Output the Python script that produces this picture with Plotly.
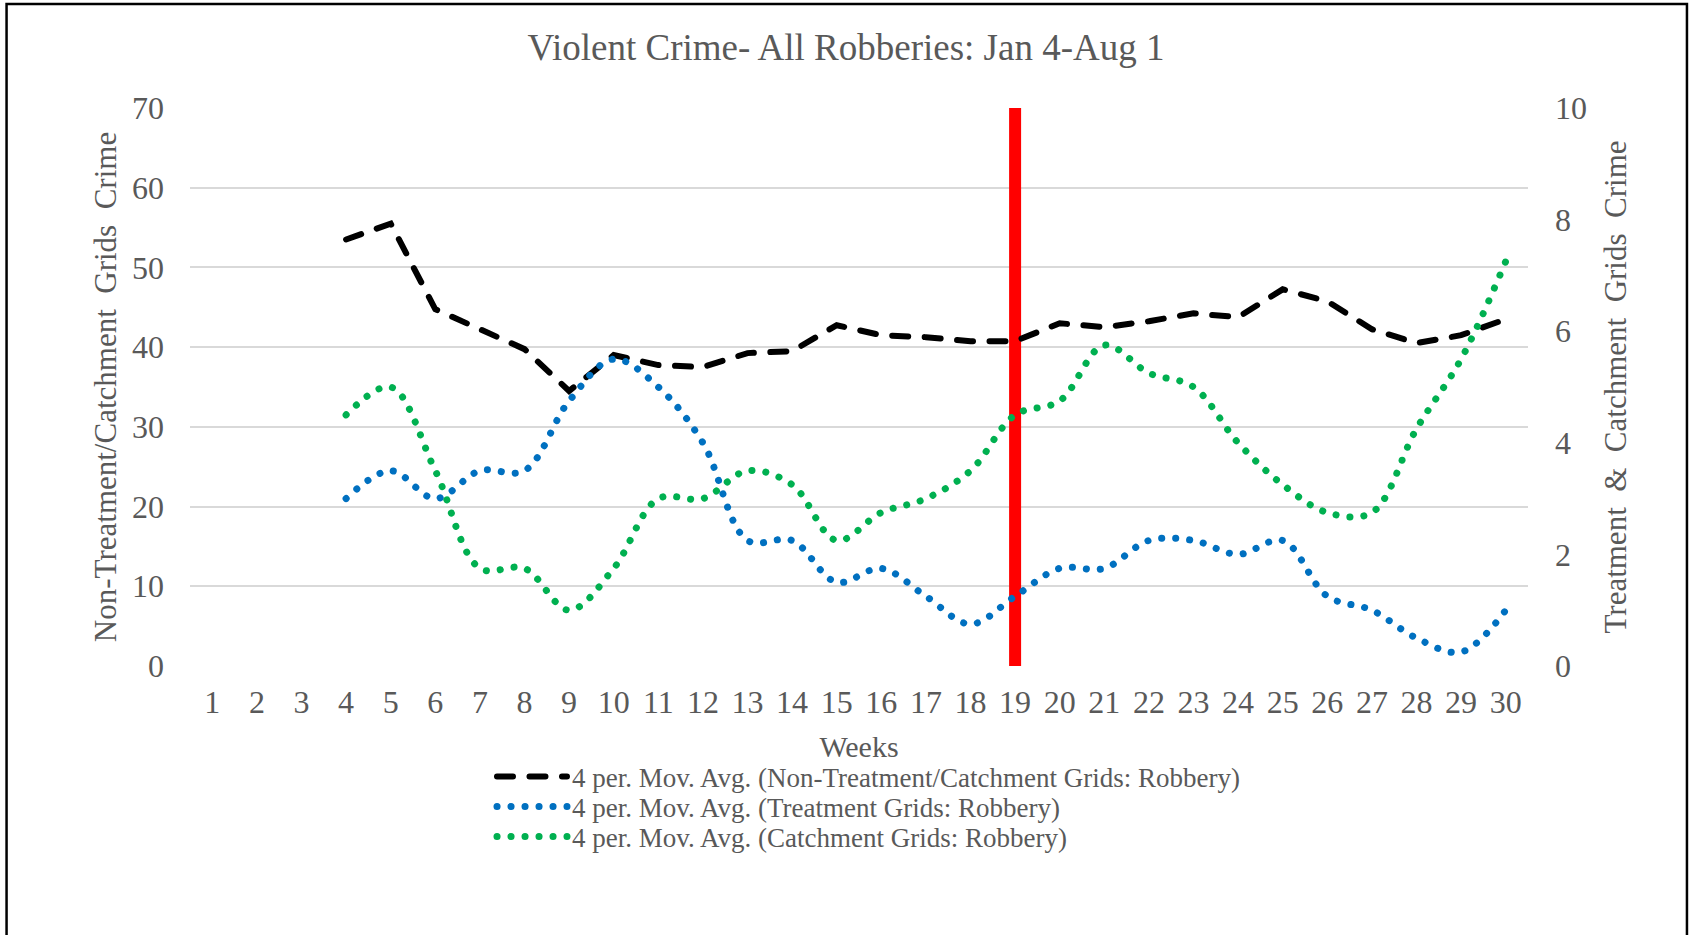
import plotly.graph_objects as go

# weekly 4-period moving averages (weeks 1-3 have no value)
weeks = list(range(1, 31))
week_labels = [str(w) for w in weeks]

non_treatment = [None, None, None, 53.5, 55.5, 44.75, 42.25, 39.75, 34.5, 39.0,
                 37.75, 37.5, 39.25, 39.5, 42.75, 41.5, 41.25, 40.75, 40.75, 43.0,
                 42.5, 43.25, 44.25, 43.75, 47.25, 45.75, 42.25, 40.5, 41.5, 43.5]
treatment = [None, None, None, 3.0, 3.5, 3.0, 3.5, 3.5, 4.75, 5.5,
             5.0, 4.0, 2.25, 2.25, 1.5, 1.75, 1.25, 0.75, 1.25, 1.75,
             1.75, 2.25, 2.25, 2.0, 2.25, 1.25, 1.0, 0.5, 0.25, 1.0]
catchment = [None, None, None, 4.5, 5.0, 3.5, 1.75, 1.75, 1.0, 1.75,
             3.0, 3.0, 3.5, 3.25, 2.25, 2.75, 3.0, 3.5, 4.5, 4.75,
             5.75, 5.25, 5.0, 4.0, 3.25, 2.75, 2.75, 4.25, 5.5, 7.25]

# intervention marker
marker_week = [19, 19]
marker_span = [0, 70]

FONT = "Liberation Serif, Times New Roman, serif"
GREY = "#595959"

fig = go.Figure()

fig.add_trace(go.Scatter(
    x=marker_week, y=marker_span, mode="lines", showlegend=False,
    line=dict(color="#FF0000", width=12), hoverinfo="skip", uid="redbar"))

fig.add_trace(go.Scatter(
    x=weeks, y=non_treatment, mode="lines", uid="blk", legend="legend",
    name="4 per. Mov. Avg. (Non-Treatment/Catchment Grids: Robbery)",
    line=dict(color="black", width=6, dash="16px,16.5px")))

fig.add_trace(go.Scatter(
    x=weeks, y=treatment, mode="lines", yaxis="y2", uid="blu", legend="legend2",
    name="4 per. Mov. Avg. (Treatment Grids: Robbery)",
    line=dict(color="#0070C0", width=7, dash="0.1px,13.9px", shape="spline", smoothing=1)))

fig.add_trace(go.Scatter(
    x=weeks, y=catchment, mode="lines", yaxis="y2", uid="grn", legend="legend3",
    name="4 per. Mov. Avg. (Catchment Grids: Robbery)",
    line=dict(color="#00B050", width=7, dash="0.1px,13.9px", shape="spline", smoothing=1)))

legend_style = dict(x=0.2257, xanchor="left", yanchor="middle",
                    font=dict(size=27, color=GREY), itemwidth=70,
                    bgcolor="rgba(0,0,0,0)")

fig.update_layout(
    width=1692, height=935,
    margin=dict(l=190, r=164, t=108, b=269),
    paper_bgcolor="white", plot_bgcolor="white",
    font=dict(family=FONT, color=GREY),
    title=dict(text="Violent Crime- All Robberies: Jan 4-Aug 1",
               x=0.5, xref="container", y=1 - 47.5 / 935, yanchor="middle",
               font=dict(size=37, color=GREY)),
    xaxis=dict(range=[0.5, 30.5], tickmode="array", tickvals=weeks, ticktext=week_labels,
               showgrid=False, zeroline=False, showline=False, ticks="",
               tickfont=dict(size=32), ticklabelstandoff=14,
               title=dict(text="Weeks", font=dict(size=30), standoff=16)),
    yaxis=dict(range=[0, 70], dtick=10, showgrid=True, gridcolor="#D9D9D9", gridwidth=1.5,
               zeroline=False, showline=False, ticks="", tickfont=dict(size=32),
               ticklabelstandoff=25,
               title=dict(text="Non-Treatment/Catchment\u00a0 Grids\u00a0 Crime",
                          font=dict(size=31), standoff=6)),
    yaxis2=dict(range=[0, 10], dtick=2, overlaying="y", side="right", showgrid=False,
                zeroline=False, showline=False, ticks="", tickfont=dict(size=32),
                ticklabelstandoff=26,
                title=dict(text="Treatment\u00a0 &\u00a0 Catchment\u00a0 Grids\u00a0 Crime",
                           font=dict(size=31), standoff=18)),
    legend=dict(legend_style, y=-0.199),
    legend2=dict(legend_style, y=-0.2527),
    legend3=dict(legend_style, y=-0.3065),
    shapes=[dict(type="rect", xref="paper", yref="paper",
                 x0=-0.1371, x1=1.1188, y0=-0.5, y1=1.1864,
                 line=dict(color="black", width=2.5), layer="above")],
)

page_fix = (
    "document.body.style.margin='0';"
    "var s=document.createElement('style');"
    "s.innerHTML='.traceblk .js-line,.traceblu .js-line,.tracegrn .js-line,"
    ".legendlines path{stroke-linecap:round !important;}';"
    "document.head.appendChild(s);"
)

fig.write_html("out.html", post_script=page_fix, config={"displayModeBar": False})
